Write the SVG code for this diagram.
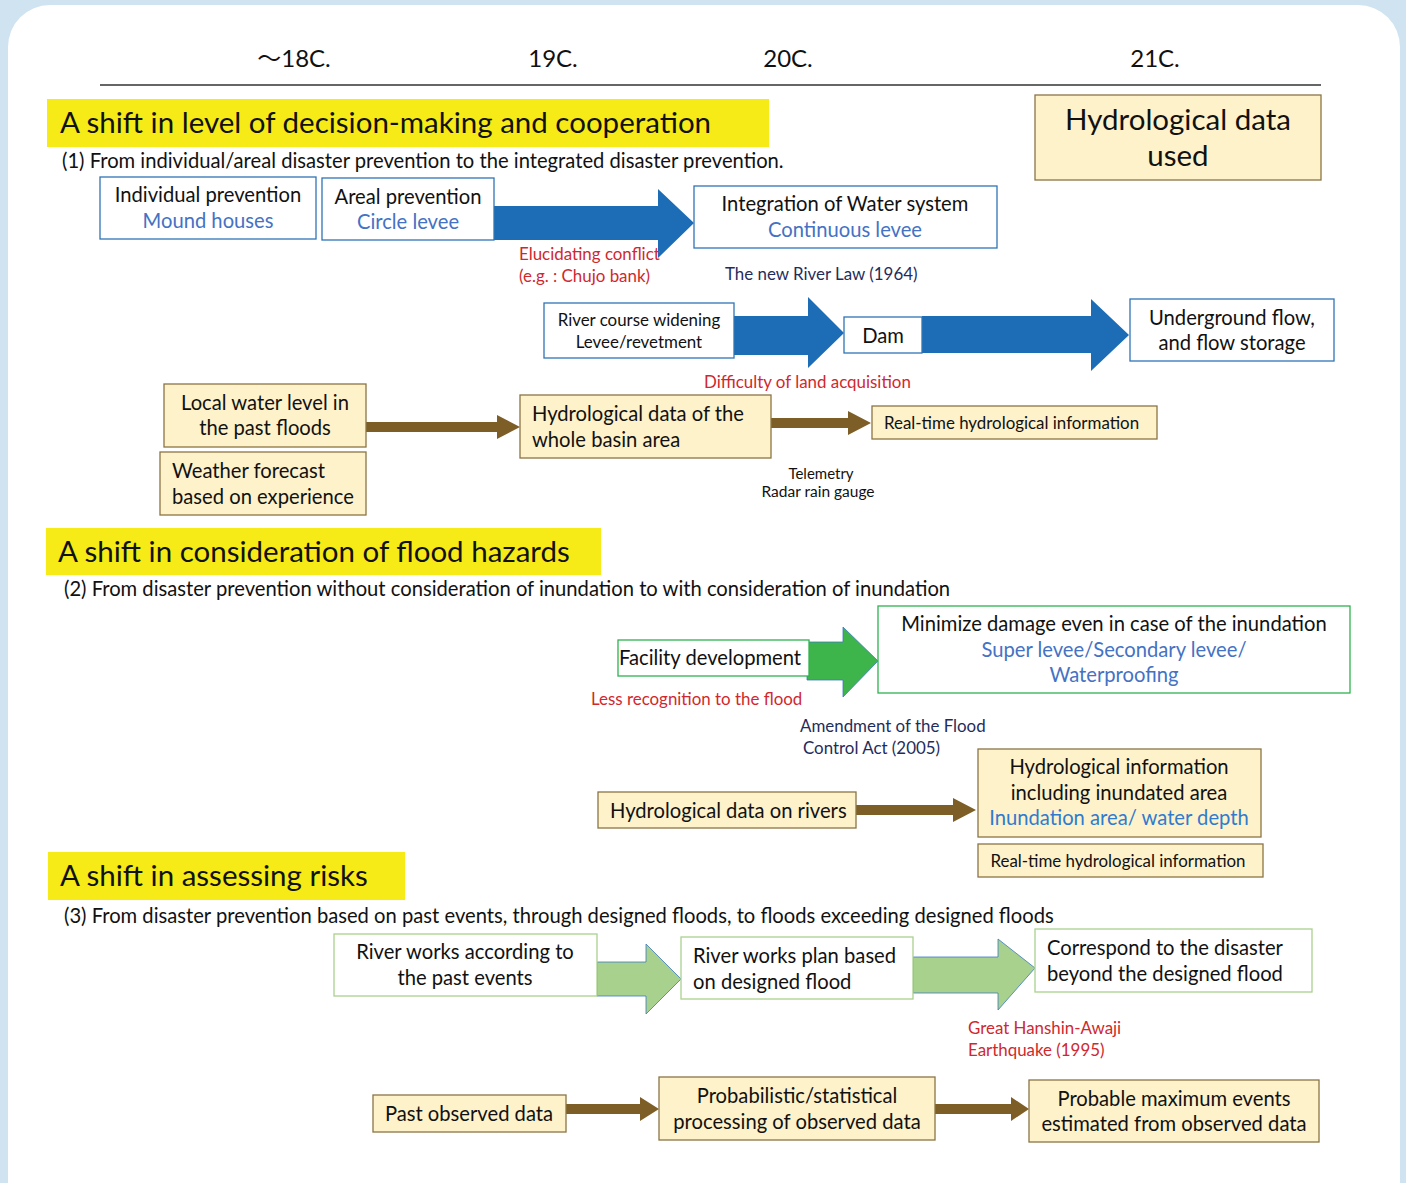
<svg xmlns="http://www.w3.org/2000/svg" width="1406" height="1183" viewBox="0 0 1406 1183">
<style>
text{font-family:Lato,"Open Sans","Liberation Sans",sans-serif;fill:#111}
.t19{font-size:20.2px}
.t16{font-size:16.9px}
.c{text-anchor:middle}
.blue{fill:#4472c4}
.lblue{fill:#2f7bd0}
.red{fill:#d0282e}
.navy{fill:#1f2d5c}
.ban{fill:#f6eb16}
.bant{font-size:29.5px}
.bb{fill:#fff;stroke:#2e75b6;stroke-width:1.3}
.yb{fill:#fef2cb;stroke:#8a7444;stroke-width:1.3}
.gb{fill:#fff;stroke:#2eb34f;stroke-width:1.3}
.lgb{fill:#fff;stroke:#a9d18e;stroke-width:1.3}
.barr{fill:#1c6db5}
.brarr{fill:#7d5e27}
.garr{fill:#3db54a;stroke:#3a78c0;stroke-width:0.8}
.lgarr{fill:#a9d18e;stroke:#3a78c0;stroke-width:0.8}
</style>
<rect x="0" y="0" width="1406" height="1183" fill="#cfe3f1"/>
<rect x="8" y="5" width="1392" height="1220" rx="42" fill="#fff"/>

<g id="timeline">
<text x="294" y="67" class="c" style="font-size:24px"><tspan style="font-family:'Noto Sans CJK JP',sans-serif">～</tspan>18C.</text>
<text x="553" y="67" class="c" style="font-size:24px">19C.</text>
<text x="788" y="67" class="c" style="font-size:24px">20C.</text>
<text x="1155" y="67" class="c" style="font-size:24px">21C.</text>
<line x1="100" y1="85" x2="1321" y2="85" stroke="#333" stroke-width="1.3"/>
</g>

<g id="banner1"><rect x="47" y="99" width="722" height="48" class="ban"/><text x="60" y="133" class="bant">A shift in level of decision-making and cooperation</text></g>
<g id="hydro-used"><rect x="1035" y="95" width="286" height="85" class="yb"/><text x="1178" y="130" class="c" style="font-size:29.5px">Hydrological data</text><text x="1178" y="166" class="c" style="font-size:29.5px">used</text></g>
<text x="62" y="168" class="t19">(1) From individual/areal disaster prevention to the integrated disaster prevention.</text>

<g id="connectors">
<polygon class="barr" points="494,206 658,206 658,189 694,223 658,258 658,240 494,240"/>
<polygon class="barr" points="734,316 808,316 808,297 844,333 808,368 808,355 734,355"/>
<polygon class="barr" points="922,316 1091,316 1091,299 1129,335 1091,371 1091,353 922,353"/>
<polygon class="brarr" points="366,422 497,422 497,415 520,427 497,439 497,432 366,432"/>
<polygon class="brarr" points="771,418 848,418 848,411 871,423 848,435 848,428 771,428"/>
<polygon class="garr" points="807,642 843,642 843,627 878,661 843,697 843,680 807,680"/>
<polygon class="brarr" points="856,805 953,805 953,798 976,810 953,822 953,815 856,815"/>
<polygon class="lgarr" points="597,962 646,962 646,944 681,979 646,1014 646,996 597,996"/>
<polygon class="lgarr" points="913,957 998,957 998,939 1035,968 998,1010 998,993 913,993"/>
<polygon class="brarr" points="566,1104 640,1104 640,1097 659,1109 640,1121 640,1114 566,1114"/>
<polygon class="brarr" points="935,1104 1011,1104 1011,1097 1029,1109 1011,1121 1011,1114 935,1114"/>
</g>

<g id="n-individual"><rect x="100" y="177" width="216" height="62" class="bb"/><text x="208" y="202" class="t19 c">Individual prevention</text><text x="208" y="228" class="t19 c blue">Mound houses</text></g>
<g id="n-areal"><rect x="322" y="178" width="172" height="62" class="bb"/><text x="408" y="204" class="t19 c">Areal prevention</text><text x="408" y="229" class="t19 c blue">Circle levee</text></g>
<g id="n-integration"><rect x="694" y="186" width="303" height="62" class="bb"/><text x="845" y="211" class="t19 c">Integration of Water system</text><text x="845" y="237" class="t19 c blue">Continuous levee</text></g>
<g id="l-elucidating"><text x="519" y="260" class="t16 red">Elucidating conflict</text><text x="519" y="282" class="t16 red">(e.g. : Chujo bank)</text></g>
<text x="725" y="280" class="t16 navy">The new River Law (1964)</text>
<g id="n-river-course"><rect x="544" y="303" width="190" height="55" class="bb"/><text x="639" y="326" class="t16 c">River course widening</text><text x="639" y="348" class="t16 c">Levee/revetment</text></g>
<g id="n-dam"><rect x="844" y="317" width="78" height="36" class="bb"/><text x="883" y="343" class="t19 c">Dam</text></g>
<g id="n-underground"><rect x="1130" y="299" width="204" height="62" class="bb"/><text x="1232" y="325" class="t19 c">Underground flow,</text><text x="1232" y="350" class="t19 c">and flow storage</text></g>
<text x="704" y="388" class="t16 red">Difficulty of land acquisition</text>

<g id="n-local"><rect x="164" y="384" width="202" height="63" class="yb"/><text x="265" y="410" class="t19 c">Local water level in</text><text x="265" y="435" class="t19 c">the past floods</text></g>
<g id="n-weather"><rect x="160" y="452" width="206" height="63" class="yb"/><text x="172" y="478" class="t19">Weather forecast</text><text x="172" y="504" class="t19">based on experience</text></g>
<g id="n-basin"><rect x="520" y="395" width="251" height="63" class="yb"/><text x="532" y="421" class="t19">Hydrological data of the</text><text x="532" y="447" class="t19">whole basin area</text></g>
<g id="n-realtime1"><rect x="872" y="406" width="285" height="33" class="yb"/><text x="884" y="429" class="t16">Real-time hydrological information</text></g>
<g id="l-telemetry"><text x="821" y="479" class="c" style="font-size:15px">Telemetry</text><text x="818" y="497" class="c" style="font-size:15.5px">Radar rain gauge</text></g>

<g id="banner2"><rect x="46" y="528" width="555" height="47" class="ban"/><text x="58" y="562" class="bant">A shift in consideration of flood hazards</text></g>
<text x="64" y="596" class="t19">(2) From disaster prevention without consideration of inundation to with consideration of inundation</text>

<g id="n-facility"><rect x="618" y="640" width="191" height="36" class="gb"/><text x="619" y="665" class="t19">Facility development</text></g>
<g id="n-minimize"><rect x="878" y="606" width="472" height="87" class="gb"/><text x="1114" y="631" class="t19 c">Minimize damage even in case of the inundation</text><text x="1114" y="657" class="t19 c blue">Super levee/Secondary levee/</text><text x="1114" y="682" class="t19 c blue">Waterproofing</text></g>
<text x="591" y="705" class="t16 red">Less  recognition to the flood</text>
<g id="l-amendment"><text x="800" y="732" class="t16 navy">Amendment of the Flood</text><text x="803" y="754" class="t16 navy">Control Act (2005)</text></g>
<g id="n-rivers"><rect x="598" y="792" width="258" height="36" class="yb"/><text x="610" y="818" class="t19">Hydrological data on rivers</text></g>
<g id="n-hydinfo"><rect x="978" y="749" width="283" height="88" class="yb"/><text x="1119" y="774" class="t19 c">Hydrological information</text><text x="1119" y="800" class="t19 c">including inundated area</text><text x="1119" y="825" class="t19 c lblue">Inundation area/ water depth</text></g>
<g id="n-realtime2"><rect x="978" y="844" width="285" height="33" class="yb"/><text x="1118" y="867" class="t16 c">Real-time hydrological information</text></g>

<g id="banner3"><rect x="48" y="852" width="357" height="48" class="ban"/><text x="60" y="886" class="bant">A shift in assessing risks</text></g>
<text x="64" y="923" class="t19">(3) From disaster prevention based on past events, through designed floods, to floods exceeding designed floods</text>

<g id="n-riverworks"><rect x="334" y="934" width="263" height="62" class="lgb"/><text x="465" y="959" class="t19 c">River works according to</text><text x="465" y="985" class="t19 c">the past events</text></g>
<g id="n-plan"><rect x="681" y="937" width="232" height="62" class="lgb"/><text x="693" y="963" class="t19">River works plan based</text><text x="693" y="989" class="t19">on designed flood</text></g>
<g id="n-correspond"><rect x="1035" y="929" width="277" height="63" class="lgb"/><text x="1047" y="955" class="t19">Correspond to the disaster</text><text x="1047" y="981" class="t19">beyond the designed flood</text></g>
<g id="l-hanshin"><text x="968" y="1034" class="t16 red">Great Hanshin-Awaji</text><text x="968" y="1056" class="t16 red">Earthquake (1995)</text></g>
<g id="n-past"><rect x="373" y="1095" width="193" height="37" class="yb"/><text x="469" y="1121" class="t19 c">Past observed data</text></g>
<g id="n-prob"><rect x="659" y="1077" width="276" height="63" class="yb"/><text x="797" y="1103" class="t19 c">Probabilistic/statistical</text><text x="797" y="1129" class="t19 c">processing of observed data</text></g>
<g id="n-pmax"><rect x="1029" y="1080" width="290" height="62" class="yb"/><text x="1174" y="1106" class="t19 c">Probable maximum events</text><text x="1174" y="1131" class="t19 c">estimated from observed data</text></g>
</svg>
